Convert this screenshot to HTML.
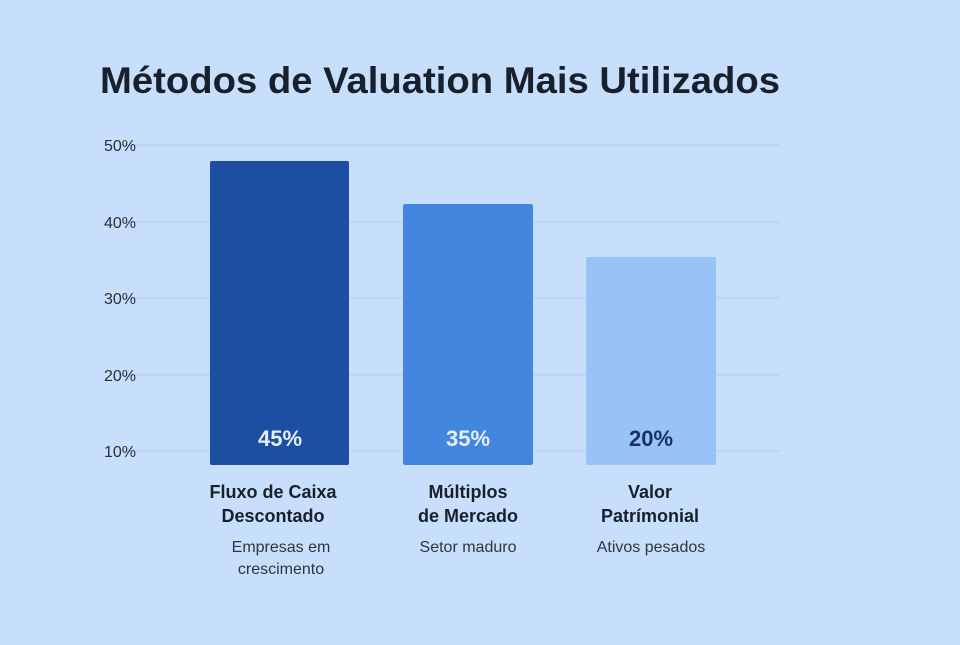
<!DOCTYPE html>
<html><head><meta charset="utf-8"><style>
body{margin:0;width:960px;height:640px;background:#c7dffb;font-family:"Liberation Sans",sans-serif;overflow:hidden}
</style></head><body>
<svg width="960" height="640" xmlns="http://www.w3.org/2000/svg" font-family="Liberation Sans, sans-serif">
<rect width="960" height="640" fill="#c7dffb"/>
<text x="100" y="93" font-size="37" font-weight="bold" fill="#17202c" textLength="680" lengthAdjust="spacingAndGlyphs">Métodos de Valuation Mais Utilizados</text>
<g stroke="#b5d0f1" stroke-width="1.2">
<line x1="120" y1="145" x2="780" y2="145"/><line x1="120" y1="222" x2="780" y2="222"/>
<line x1="120" y1="298" x2="780" y2="298"/><line x1="120" y1="375" x2="780" y2="375"/>
<line x1="120" y1="451" x2="780" y2="451"/>
</g>
<g font-size="16" fill="#2a2f38" text-anchor="end">
<text x="136" y="151">50%</text><text x="136" y="228">40%</text><text x="136" y="304">30%</text>
<text x="136" y="381">20%</text><text x="136" y="457">10%</text>
</g>
<rect x="210" y="161" width="139" height="304" rx="2" fill="#1c4fa1"/>
<rect x="403" y="204" width="130" height="261" rx="2" fill="#4386e0"/>
<rect x="586" y="257" width="130" height="208" rx="2" fill="#99c2f6"/>
<g font-size="22" font-weight="bold" text-anchor="middle">
<text x="280" y="446" fill="#e6eefa">45%</text>
<text x="468" y="446" fill="#e6eefa">35%</text>
<text x="651" y="446" fill="#17306a">20%</text>
</g>
<g font-size="18" font-weight="bold" fill="#17202c" text-anchor="middle">
<text x="273" y="498">Fluxo de Caixa</text><text x="273" y="522">Descontado</text>
<text x="468" y="498">Múltiplos</text><text x="468" y="522">de Mercado</text>
<text x="650" y="498">Valor</text><text x="650" y="522">Patrímonial</text>
</g>
<g font-size="16" fill="#2f3540" text-anchor="middle">
<text x="281" y="552">Empresas em</text><text x="281" y="574">crescimento</text>
<text x="468" y="552">Setor maduro</text>
<text x="651" y="552">Ativos pesados</text>
</g>
</svg>
</body></html>
